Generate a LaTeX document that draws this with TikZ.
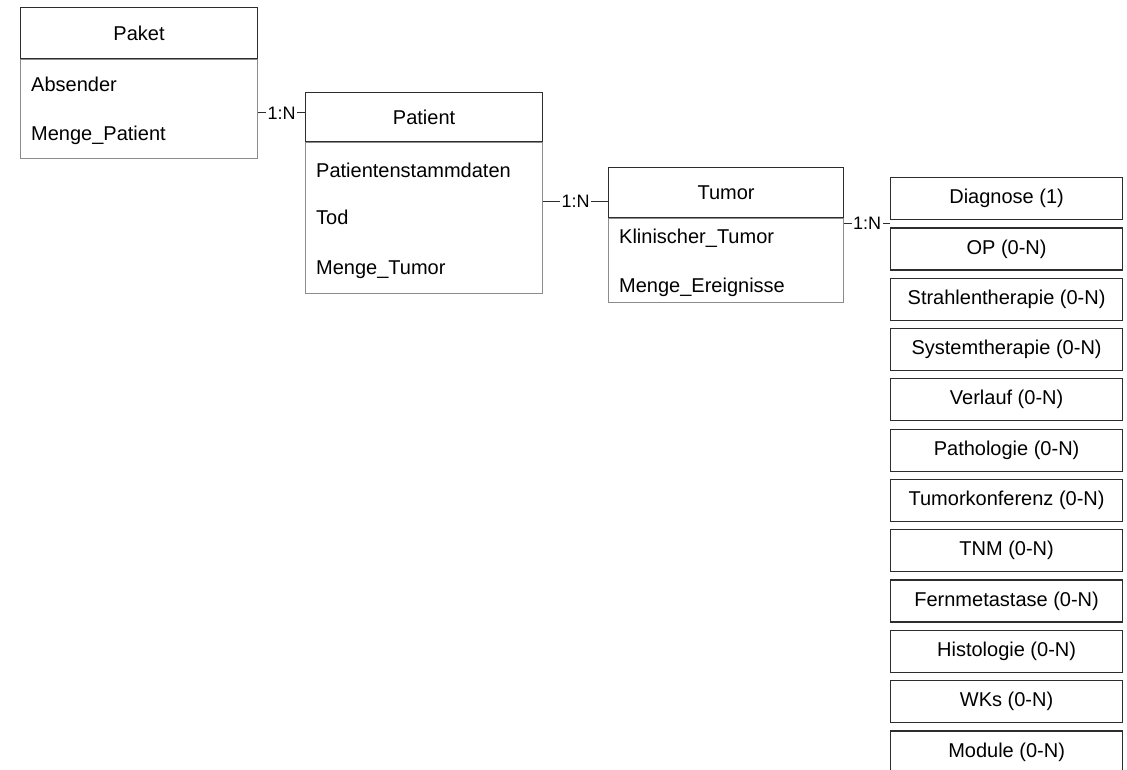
\documentclass[tikz,border=0pt]{standalone}
\usepackage{fontspec}
\setmainfont{Liberation Sans}
\usepackage{tikz}
\definecolor{frame}{RGB}{45,45,45}
\definecolor{rule}{RGB}{140,140,140}
\usetikzlibrary{positioning,calc}

\begin{document}
\begin{tikzpicture}[x=1pt, y=-1pt, font=\fontsize{20}{24}\selectfont,
    body/.style={draw=rule, line width=1.1pt, rectangle, inner sep=0pt, anchor=north west},
    head/.style={draw=frame, line width=1.2pt, rectangle, inner sep=0pt},
    attr/.style={inner sep=0pt, anchor=base west},
    event/.style={draw=frame, line width=1.2pt, rectangle, inner sep=0pt, anchor=north west,
        minimum width=232pt, minimum height=42pt},
    link/.style={draw=frame, line width=1.1pt},
    card/.style={fill=white, inner sep=1.5pt, font=\fontsize{18}{20}\selectfont}]
    \useasboundingbox (0,0) rectangle (1127,769);
    \clip (0,0) rectangle (1127,769);

    % Paket
    \node[body, minimum width=237pt, minimum height=99pt] (paketbody) at (20,59) {};
    \node[head, minimum width=237pt, minimum height=51pt, above=0pt of paketbody] (pakethead) {Paket};
    \node[attr] (absender) at ($(paketbody.north west)+(11,32)$) {Absender};
    \node[attr] (mengepatient) at ($(paketbody.north west)+(11,81)$) {Menge\_Patient};

    % Patient
    \node[body, minimum width=237pt, minimum height=151pt] (patientbody) at (305,142) {};
    \node[head, minimum width=237pt, minimum height=49pt, above=0pt of patientbody] (patienthead) {Patient};
    \node[attr] (stammdaten) at ($(patientbody.north west)+(11,35)$) {Patientenstammdaten};
    \node[attr] (tod) at ($(patientbody.north west)+(11,82)$) {Tod};
    \node[attr] (mengetumor) at ($(patientbody.north west)+(11,132)$) {Menge\_Tumor};

    % Tumor
    \node[body, minimum width=235pt, minimum height=84pt] (tumorbody) at (608,218) {};
    \node[head, minimum width=235pt, minimum height=50pt, above=0pt of tumorbody] (tumorhead) {Tumor};
    \node[attr] (klinisch) at ($(tumorbody.north west)+(11,25)$) {Klinischer\_Tumor};
    \node[attr] (ereignisse) at ($(tumorbody.north west)+(11,74)$) {Menge\_Ereignisse};

    % Ereignisse
    \foreach \name [count=\i from 0] in {Diagnose (1), OP (0-N), Strahlentherapie (0-N),
        Systemtherapie (0-N), Verlauf (0-N), Pathologie (0-N), Tumorkonferenz (0-N),
        TNM (0-N), Fernmetastase (0-N), Histologie (0-N), WKs (0-N), Module (0-N)}
        \node[event] (ev\i) at (890,{177+50.3*\i}) {\name};

    % Beziehungen
    \coordinate (patientin) at ([yshift=4pt]patienthead.west);
    \coordinate (tumorin) at ([yshift=-9pt]tumorhead.west);
    \coordinate (evin) at ($(ev0.south west)!0.5!(ev1.north west)$);
    \draw[link] (paketbody.east |- patientin) -- node[card] {1:N} (patientin);
    \draw[link] (patientbody.east |- tumorin) -- node[card] {1:N} (tumorin);
    \draw[link] (tumorbody.east |- evin) -- node[card] {1:N} (evin);
\end{tikzpicture}
\end{document}
